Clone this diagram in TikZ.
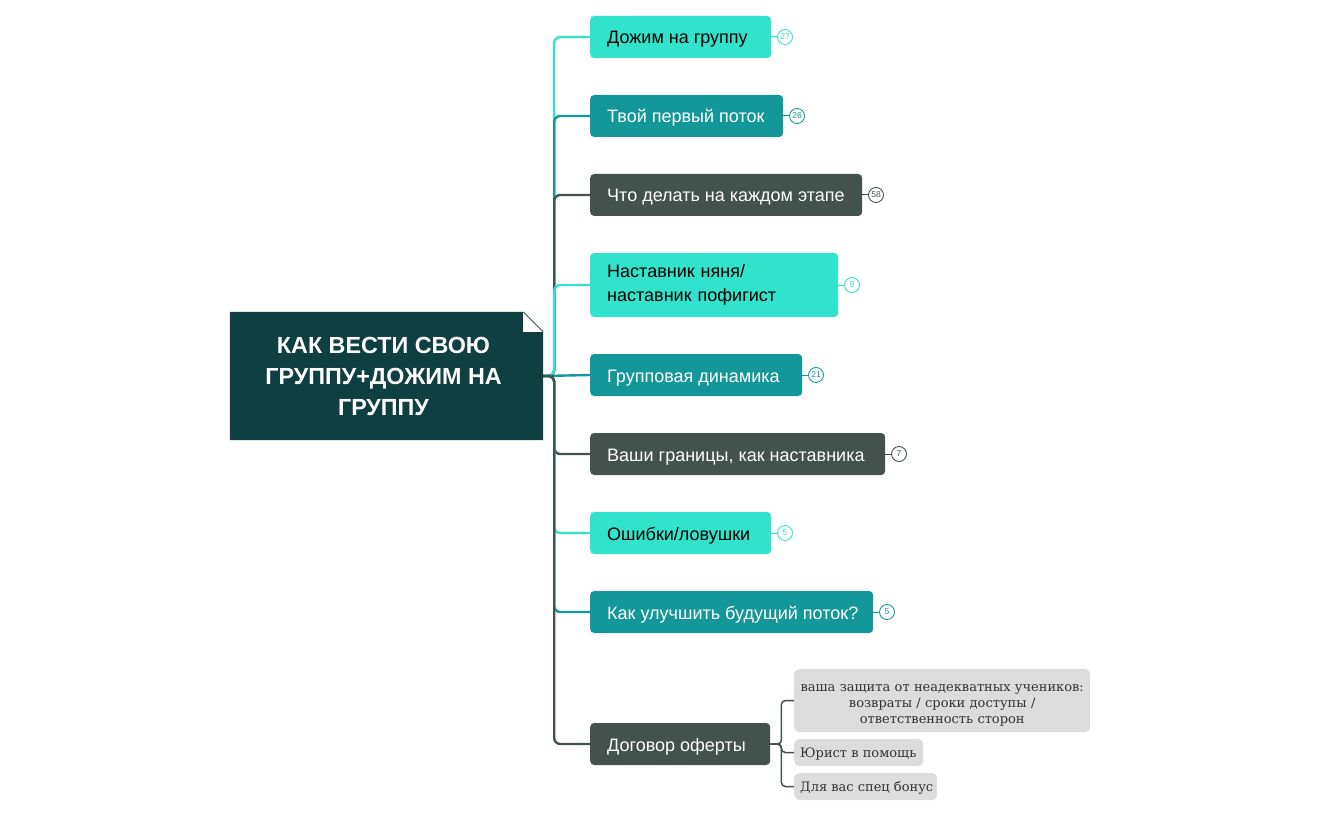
\documentclass[tikz,border=0pt]{standalone}
\usepackage{fontspec}
\setmainfont{Liberation Sans}
\newfontfamily\subfont{DejaVu Serif}
\usetikzlibrary{backgrounds}
\definecolor{ccyan}{HTML}{31E3CC}
\definecolor{cteal}{HTML}{13979A}
\definecolor{cdark}{HTML}{44524E}
\definecolor{croot}{HTML}{0E4042}
\definecolor{cgray}{HTML}{DCDCDC}
\definecolor{csubtext}{HTML}{333333}
\newcommand{\lbox}[2]{\makebox[#1][l]{#2}}
\tikzset{
  kid/.style={rounded corners=4pt, inner xsep=17pt, inner ysep=0pt, anchor=west,
    minimum height=42pt, font=\fontsize{18}{23.5}\selectfont},
  one/.style={text height=14pt, text depth=0pt},
  kidc/.style={kid, fill=ccyan, text=black},
  kidt/.style={kid, fill=cteal, text=white},
  kidd/.style={kid, fill=cdark, text=white},
  badge/.style={circle, draw=#1, fill=white, text=#1, line width=0.9pt, minimum size=15pt,
    inner sep=0pt, font=\fontsize{8.5}{8.5}\selectfont},
  conn/.style={line width=2.4pt, rounded corners=6pt},
  bconn/.style={line width=1pt},
  sub/.style={rounded corners=5pt, fill=cgray, text=csubtext, inner xsep=6pt, inner ysep=0pt,
    anchor=west, font=\subfont\fontsize{13}{16}\selectfont},
  subconn/.style={draw=cdark, line width=1.5pt, rounded corners=4pt},
}
\begin{document}
\begin{tikzpicture}[x=1pt,y=-1pt]
\useasboundingbox (0,0) rectangle (1321,818);
% root
\node[minimum width=313pt, minimum height=128pt, inner sep=0pt, text=white, align=center,
  font=\bfseries\fontsize{23.3}{31}\selectfont] (root) at (386.5,376)
  {\hspace*{-6pt}КАК ВЕСТИ СВОЮ\\\hspace*{-6pt}ГРУППУ+ДОЖИМ НА\\\hspace*{-6pt}ГРУППУ};
\begin{pgfonlayer}{background}
\fill[croot] (root.north west) -- ([xshift=-20pt]root.north east) -- ([yshift=-20pt]root.north east)
  -- (root.south east) -- (root.south west) -- cycle;
\fill[white] ([xshift=-20pt]root.north east) -- ([xshift=-20pt,yshift=-20pt]root.north east)
  -- ([yshift=-20pt]root.north east) -- cycle;
\draw[croot, line width=0.6pt] ([xshift=-20pt]root.north east) -- ([yshift=-20pt]root.north east);
\end{pgfonlayer}

% children
\node[kidc, one] (n1) at (590,37) {\lbox{147pt}{Дожим на группу}};
\node[kidt, one] (n2) at (590,116) {\lbox{159pt}{Твой первый поток}};
\node[kidd, one] (n3) at (590,195) {\lbox{238pt}{Что делать на каждом этапе}};
\node[kidc, align=left, text width=214pt, minimum height=64pt] (n4) at (590,285) {Наставник няня/\\наставник пофигист};
\node[kidt, one] (n5) at (590,375) {\lbox{178pt}{Групповая динамика}};
\node[kidd, one] (n6) at (590,454) {\lbox{261pt}{Ваши границы, как наставника}};
\node[kidc, one] (n7) at (590,533) {\lbox{147pt}{Ошибки/ловушки}};
\node[kidt, one] (n8) at (590,612) {\lbox{249pt}{Как улучшить будущий поток?}};
\node[kidd, one] (n9) at (590,744) {\lbox{146pt}{Договор оферты}};

% connectors
\begin{pgfonlayer}{background}
\draw[conn, ccyan] (root.east) -- ++(11,0) |- (n1.west);
\draw[conn, cteal] (root.east) -- ++(11,0) |- (n2.west);
\draw[conn, cdark] (root.east) -- ++(11,0) |- (n3.west);
\draw[conn, ccyan] (root.east) -- ++(11,0) |- (n4.west);
\draw[line width=2.4pt, cteal] (root.east) -- (n5.west);
\draw[line width=2.4pt, cdark] (root.east) -- ++(11,0);
\draw[conn, cdark] (root.east) -- ++(11,0) |- (n6.west);
\draw[conn, ccyan] (root.east) -- ++(11,0) |- (n7.west);
\draw[conn, cteal] (root.east) -- ++(11,0) |- (n8.west);
\draw[conn, cdark] (root.east) -- ++(11,0) |- (n9.west);
\end{pgfonlayer}

% badges
\node[badge=ccyan] (b1) at (785,37) {27};
\node[badge=cteal] (b2) at (797,116) {26};
\node[badge=cdark] (b3) at (876,195) {58};
\node[badge=ccyan] (b4) at (852,285) {9};
\node[badge=cteal] (b5) at (816,375) {21};
\node[badge=cdark] (b6) at (899,454) {7};
\node[badge=ccyan] (b7) at (785,533) {5};
\node[badge=cteal] (b8) at (887,612) {5};
\draw[bconn, ccyan] (n1.east) -- (b1.west);
\draw[bconn, cteal] (n2.east) -- (b2.west);
\draw[bconn, cdark] (n3.east) -- (b3.west);
\draw[bconn, ccyan] (n4.east) -- (b4.west);
\draw[bconn, cteal] (n5.east) -- (b5.west);
\draw[bconn, cdark] (n6.east) -- (b6.west);
\draw[bconn, ccyan] (n7.east) -- (b7.west);
\draw[bconn, cteal] (n8.east) -- (b8.west);

% sub nodes
\node[sub, text width=284pt, align=center, minimum height=63pt] (s1) at (794,700.5)
  {\rule{0pt}{17.5pt}ваша защита от неадекватных учеников:\\возвраты / сроки доступы /\\ответственность сторон};
\node[sub, minimum height=27pt, text height=9pt, text depth=0pt] (s2) at (794,752.5) {\lbox{117pt}{Юрист в помощь}};
\node[sub, minimum height=27pt, text height=9pt, text depth=0pt] (s3) at (794,786.5) {\lbox{131pt}{Для вас спец бонус}};
\draw[subconn] (n9.east) -- ++(11,0) |- (s1.west);
\draw[subconn] (n9.east) -- ++(11,0) |- (s2.west);
\draw[subconn] (n9.east) -- ++(11,0) |- (s3.west);
\end{tikzpicture}
\end{document}
